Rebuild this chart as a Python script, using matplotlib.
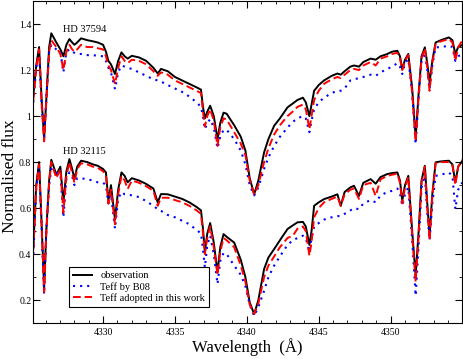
import matplotlib
matplotlib.use("Agg")
import matplotlib.pyplot as plt
from matplotlib.ticker import MultipleLocator, FuncFormatter

plt.rcParams['font.family'] = ['Liberation Serif', 'DejaVu Serif']

# wavelength grid (Angstrom), shared by both stars
wave = [4325.15, 4325.35, 4325.55, 4325.72, 4325.90, 4326.05, 4326.25, 4326.40,
        4326.75, 4327.03, 4327.24, 4327.45, 4327.66, 4327.85, 4328.01, 4328.20,
        4328.47, 4328.90, 4329.30, 4329.63, 4330.00, 4330.20, 4330.37, 4330.55,
        4330.83, 4331.05, 4331.28, 4331.50, 4331.71, 4332.00, 4332.50, 4333.00,
        4333.50, 4333.80, 4334.03, 4334.50, 4335.00, 4335.50, 4336.00, 4336.50,
        4336.81, 4336.95, 4337.08, 4337.25, 4337.45, 4337.70, 4337.96, 4338.15,
        4338.38, 4338.60, 4339.12, 4339.58, 4339.90, 4340.20, 4340.51, 4340.80,
        4341.20, 4341.50, 4341.90, 4342.30, 4342.83, 4343.20, 4343.52, 4343.90,
        4344.10, 4344.35, 4344.50, 4344.68, 4345.00, 4345.37, 4345.90, 4346.30,
        4346.53, 4346.80, 4347.20, 4347.45, 4347.80, 4348.10, 4348.61, 4348.96,
        4349.30, 4349.77, 4350.10, 4350.47, 4350.65, 4350.81, 4351.00, 4351.23,
        4351.50, 4351.74, 4351.95, 4352.15, 4352.38, 4352.55, 4352.71, 4352.90,
        4353.13, 4353.50, 4354.05, 4354.30, 4354.50, 4354.70, 4355.00]

# HD 37594 (upper)
obs_37594 = [1.09, 1.22, 1.30, 1.08, 0.90, 1.07, 1.30, 1.36,
             1.32, 1.29, 1.26, 1.31, 1.335, 1.32, 1.31, 1.32,
             1.338, 1.33, 1.325, 1.32, 1.31, 1.28, 1.24, 1.225,
             1.183, 1.24, 1.277, 1.26, 1.25, 1.262, 1.255, 1.24,
             1.21, 1.185, 1.205, 1.195, 1.17, 1.155, 1.14, 1.125,
             1.115, 1.04, 0.99, 1.02, 1.045, 1.00, 0.90, 0.97,
             1.015, 1.01, 0.96, 0.91, 0.85, 0.73, 0.66, 0.72,
             0.842, 0.90, 0.958, 0.99, 1.038, 1.055, 1.07, 1.08,
             1.06, 1.00, 1.05, 1.11, 1.135, 1.155, 1.175, 1.185,
             1.18, 1.195, 1.215, 1.22, 1.215, 1.235, 1.25, 1.245,
             1.26, 1.27, 1.28, 1.284, 1.26, 1.204, 1.245, 1.27,
             1.12, 0.907, 1.10, 1.26, 1.299, 1.23, 1.146, 1.24,
             1.32, 1.33, 1.342, 1.33, 1.27, 1.30, 1.31]
b08_37594 = [1.06, 1.21, 1.28, 1.06, 0.91, 1.07, 1.28, 1.31,
             1.29, 1.28, 1.19, 1.28, 1.29, 1.28, 1.275, 1.27,
             1.27, 1.265, 1.265, 1.262, 1.26, 1.24, 1.21, 1.19,
             1.117, 1.19, 1.22, 1.215, 1.21, 1.205, 1.19, 1.175,
             1.16, 1.155, 1.15, 1.135, 1.12, 1.105, 1.085, 1.06,
             1.04, 1.00, 0.943, 0.97, 0.987, 0.95, 0.86, 0.91,
             0.94, 0.94, 0.90, 0.85, 0.79, 0.70, 0.655, 0.69,
             0.77, 0.82, 0.87, 0.91, 0.95, 0.975, 0.99, 1.00,
             0.99, 0.93, 0.98, 1.03, 1.06, 1.08, 1.10, 1.11,
             1.11, 1.12, 1.155, 1.16, 1.165, 1.17, 1.18, 1.175,
             1.19, 1.205, 1.215, 1.23, 1.215, 1.183, 1.23, 1.248,
             1.10, 0.878, 1.08, 1.24, 1.277, 1.20, 1.117, 1.22,
             1.299, 1.30, 1.306, 1.30, 1.24, 1.26, 1.27]
adopt_37594 = [1.07, 1.21, 1.29, 1.06, 0.89, 1.06, 1.28, 1.33,
               1.30, 1.27, 1.20, 1.28, 1.31, 1.29, 1.28, 1.29,
               1.31, 1.30, 1.30, 1.295, 1.29, 1.26, 1.22, 1.20,
               1.14, 1.21, 1.26, 1.24, 1.23, 1.245, 1.24, 1.225,
               1.195, 1.175, 1.19, 1.18, 1.155, 1.14, 1.125, 1.11,
               1.10, 1.02, 0.955, 1.00, 1.03, 0.98, 0.87, 0.95,
               0.99, 0.985, 0.93, 0.88, 0.83, 0.72, 0.66, 0.70,
               0.80, 0.86, 0.92, 0.96, 1.00, 1.02, 1.04, 1.05,
               1.03, 0.943, 1.00, 1.07, 1.11, 1.14, 1.16, 1.17,
               1.165, 1.18, 1.20, 1.205, 1.20, 1.22, 1.235, 1.22,
               1.25, 1.26, 1.27, 1.275, 1.25, 1.20, 1.24, 1.265,
               1.10, 0.89, 1.09, 1.25, 1.295, 1.21, 1.11, 1.23,
               1.315, 1.325, 1.335, 1.32, 1.24, 1.30, 1.33]

# HD 32115 (lower)
obs_32115 = [0.43, 0.70, 0.80, 0.54, 0.25, 0.50, 0.72, 0.81,
             0.745, 0.78, 0.625, 0.76, 0.813, 0.77, 0.726, 0.78,
             0.806, 0.80, 0.79, 0.784, 0.77, 0.755, 0.632, 0.70,
             0.55, 0.68, 0.755, 0.74, 0.712, 0.73, 0.72, 0.705,
             0.685, 0.625, 0.661, 0.66, 0.65, 0.64, 0.625, 0.605,
             0.59, 0.51, 0.41, 0.49, 0.535, 0.45, 0.32, 0.43,
             0.487, 0.475, 0.45, 0.375, 0.30, 0.19, 0.139, 0.20,
             0.335, 0.385, 0.422, 0.46, 0.509, 0.525, 0.538, 0.54,
             0.52, 0.44, 0.50, 0.61, 0.625, 0.639, 0.65, 0.66,
             0.61, 0.67, 0.69, 0.697, 0.653, 0.71, 0.726, 0.706,
             0.735, 0.748, 0.752, 0.755, 0.72, 0.632, 0.70, 0.74,
             0.50, 0.306, 0.50, 0.72, 0.784, 0.62, 0.48, 0.66,
             0.799, 0.803, 0.806, 0.79, 0.712, 0.78, 0.806]
b08_32115 = [0.40, 0.68, 0.78, 0.53, 0.225, 0.50, 0.70, 0.77,
             0.755, 0.75, 0.56, 0.73, 0.755, 0.74, 0.70, 0.73,
             0.73, 0.725, 0.72, 0.712, 0.71, 0.70, 0.62, 0.66,
             0.51, 0.64, 0.67, 0.66, 0.66, 0.655, 0.648, 0.63,
             0.61, 0.595, 0.588, 0.57, 0.56, 0.545, 0.53, 0.505,
             0.49, 0.42, 0.342, 0.44, 0.48, 0.40, 0.27, 0.37,
             0.405, 0.40, 0.35, 0.31, 0.26, 0.18, 0.131, 0.17,
             0.24, 0.30, 0.35, 0.39, 0.44, 0.46, 0.47, 0.48,
             0.47, 0.41, 0.47, 0.52, 0.535, 0.55, 0.56, 0.565,
             0.565, 0.575, 0.59, 0.60, 0.595, 0.62, 0.635, 0.625,
             0.655, 0.67, 0.675, 0.685, 0.665, 0.61, 0.66, 0.69,
             0.46, 0.219, 0.44, 0.69, 0.74, 0.58, 0.46, 0.62,
             0.74, 0.745, 0.755, 0.74, 0.596, 0.68, 0.712]
adopt_32115 = [0.42, 0.69, 0.79, 0.53, 0.235, 0.49, 0.71, 0.80,
               0.73, 0.77, 0.58, 0.74, 0.80, 0.75, 0.71, 0.77,
               0.795, 0.79, 0.78, 0.775, 0.76, 0.74, 0.62, 0.68,
               0.53, 0.66, 0.74, 0.72, 0.683, 0.72, 0.71, 0.695,
               0.675, 0.61, 0.645, 0.645, 0.635, 0.625, 0.61, 0.59,
               0.575, 0.49, 0.40, 0.47, 0.52, 0.43, 0.31, 0.41,
               0.47, 0.46, 0.43, 0.35, 0.28, 0.18, 0.14, 0.185,
               0.30, 0.35, 0.39, 0.43, 0.47, 0.48, 0.51, 0.52,
               0.50, 0.393, 0.45, 0.56, 0.60, 0.625, 0.64, 0.65,
               0.61, 0.66, 0.68, 0.685, 0.64, 0.70, 0.71, 0.653,
               0.725, 0.74, 0.745, 0.75, 0.71, 0.62, 0.69, 0.735,
               0.48, 0.28, 0.48, 0.71, 0.78, 0.60, 0.46, 0.65,
               0.795, 0.80, 0.80, 0.785, 0.70, 0.78, 0.81]

labels = ['observation', 'Teff by B08', 'Teff adopted in this work']

fig = plt.figure(figsize=(4.63, 3.59), dpi=100)
ax = fig.add_axes([0.072, 0.1, 0.926, 0.897])

dots = (0, (1, 2.4))
dashes = (0, (4, 2))
for obs, b08, adopt, first in [(obs_37594, b08_37594, adopt_37594, True),
                               (obs_32115, b08_32115, adopt_32115, False)]:
    ax.plot(wave, obs, color='black', lw=1.4, label=labels[0] if first else None)
    ax.plot(wave, b08, color='blue', lw=1.5, linestyle=dots,
            label=labels[1] if first else None)
    ax.plot(wave, adopt, color='red', lw=1.4, linestyle=dashes,
            label=labels[2] if first else None)

ax.text(4327.2, 1.375, 'HD 37594', fontsize=7.5, va='center')
ax.text(4327.2, 0.846, 'HD 32115', fontsize=7.5, va='center')

ax.set_xlim(4325.15, 4354.97)
ax.set_ylim(0.1, 1.5)
ax.xaxis.set_major_locator(MultipleLocator(5))
ax.xaxis.set_minor_locator(MultipleLocator(1))
ax.yaxis.set_major_locator(MultipleLocator(0.2))
ax.yaxis.set_minor_locator(MultipleLocator(0.1))
ax.yaxis.set_major_formatter(FuncFormatter(lambda v, p: '%g' % round(v, 2)))
ax.tick_params(which='both', direction='in', top=True, right=True, labelsize=7)
ax.tick_params(which='major', length=5)
ax.tick_params(which='minor', length=2.5)
ax.tick_params(axis='y', pad=1.5)

ax.set_xlabel('Wavelength  (Å)', fontsize=12, labelpad=1)
ax.set_ylabel('Normalised flux', fontsize=12.5, labelpad=1)
ax.yaxis.set_label_coords(-0.0355, 0.456)

leg = ax.legend(loc='lower left', bbox_to_anchor=(0.083, 0.05), borderaxespad=0,
                fontsize=7.5, fancybox=False, edgecolor='black', framealpha=1,
                handlelength=1.8, labelspacing=0.15, handletextpad=0.8,
                borderpad=0.4)
leg.get_frame().set_linewidth(0.8)

plt.savefig('out.png', dpi=100)
